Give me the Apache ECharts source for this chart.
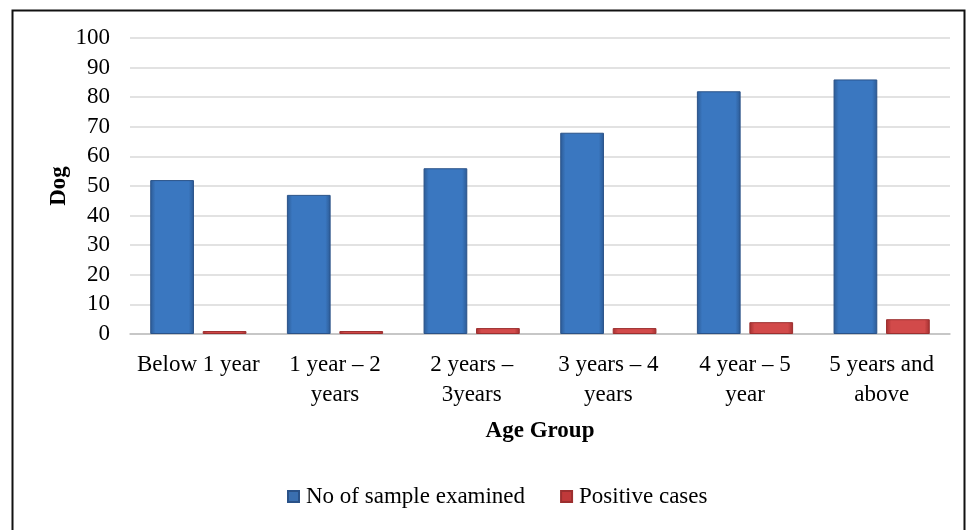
<!DOCTYPE html>
<html><head><meta charset="utf-8">
<script src="https://cdn.jsdelivr.net/npm/echarts@6/dist/echarts.min.js"></script>
<style>html,body{margin:0;padding:0;background:#fff}#c{width:968px;height:530px}</style>
</head><body><div id="c"></div>
<script>
const categories = ["Below 1 year", "1 year \u2013 2\nyears", "2 years \u2013\n3years", "3 years \u2013 4\nyears", "4 year \u2013 5\nyear", "5 years and\nabove"];
const samplesExamined = [52, 47, 56, 68, 82, 86];
const positiveCases = [1, 1, 2, 2, 4, 5];
const yTicks = [0, 10, 20, 30, 40, 50, 60, 70, 80, 90, 100];

const font = "'Liberation Serif', 'Times New Roman', serif";
function hgrad(edge, mid) {
  return new echarts.graphic.LinearGradient(0, 0, 1, 0, [
    {offset: 0, color: edge}, {offset: 0.12, color: mid}, {offset: 0.88, color: mid}, {offset: 1, color: edge}
  ]);
}
const chart = echarts.init(document.getElementById('c'), null, {renderer: 'canvas'});
chart.setOption({
  animation: false,
  backgroundColor: '#fff',
  graphic: [{
    type: 'rect', left: 10, top: 8, shape: {x: 0, y: 0, width: 952, height: 540},
    style: {fill: 'none', stroke: '#111', lineWidth: 2}, z: 100
  }],
  grid: {left: 130, right: 18, top: 38, bottom: 196, containLabel: false},
  legend: {
    bottom: 17, left: 282, itemWidth: 11, itemHeight: 11, itemGap: 35,
    textStyle: {fontFamily: font, fontSize: 23, color: '#000', padding: [0, 0, 0, 2]},
    data: [
      {name: 'No of sample examined', icon: 'rect', itemStyle: {color: '#3a6fb0'}},
      {name: 'Positive cases', icon: 'rect', itemStyle: {color: '#c0393a'}}
    ]
  },
  xAxis: {
    type: 'category', data: categories,
    name: 'Age Group', nameLocation: 'middle', nameGap: 86,
    nameTextStyle: {fontFamily: font, fontSize: 23, fontWeight: 'bold', color: '#000'},
    axisLine: {lineStyle: {color: '#bfbfbf', width: 1.5}},
    axisTick: {show: false},
    axisLabel: {fontFamily: font, fontSize: 23, color: '#000', margin: 16, lineHeight: 30, interval: 0}
  },
  yAxis: {
    type: 'value', min: yTicks[0], max: yTicks[yTicks.length - 1], interval: 10,
    name: 'Dog', nameLocation: 'middle', nameGap: 59, nameRotate: 90, nameMoveOverlap: false,
    nameTextStyle: {fontFamily: font, fontSize: 23, fontWeight: 'bold', color: '#000'},
    axisLine: {show: false}, axisTick: {show: false},
    axisLabel: {fontFamily: font, fontSize: 23, color: '#000', margin: 20},
    splitLine: {lineStyle: {color: '#d9d9d9', width: 1.5}}
  },
  series: [
    {
      name: 'No of sample examined', type: 'bar', data: samplesExamined,
      barWidth: '32%', barGap: '20%',
      itemStyle: {color: hgrad('#2c5a94', '#3a77c0'), borderColor: '#2a5288', borderWidth: 1}
    },
    {
      name: 'Positive cases', type: 'bar', data: positiveCases,
      barWidth: '32%',
      itemStyle: {color: hgrad('#a33030', '#d24a4a'), borderColor: '#9c2f2f', borderWidth: 1}
    }
  ]
});
</script></body></html>
